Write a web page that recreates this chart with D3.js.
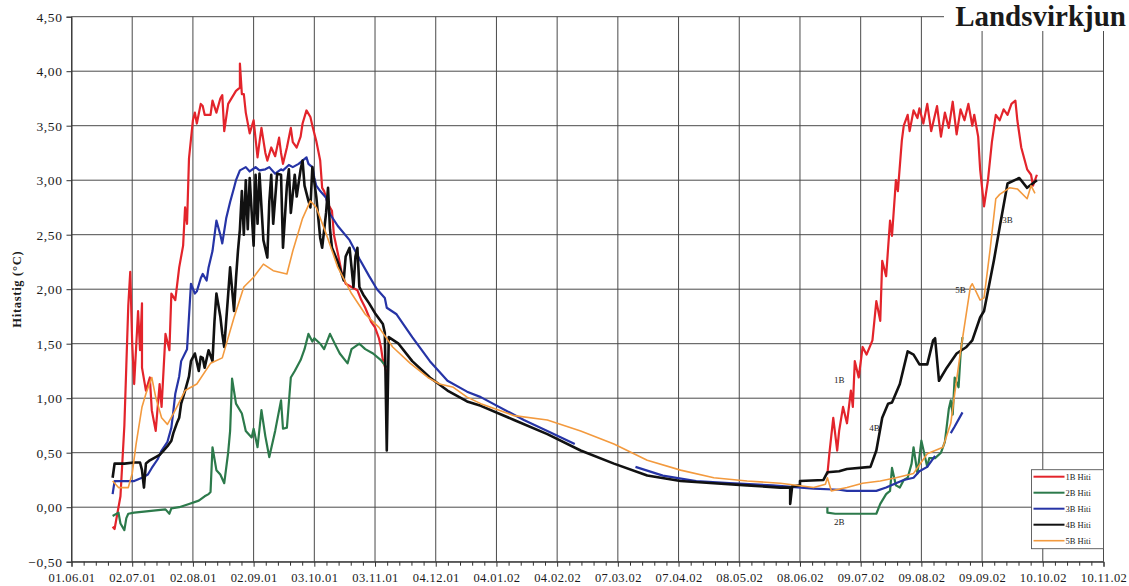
<!DOCTYPE html>
<html>
<head>
<meta charset="utf-8">
<script src="https://cdn.jsdelivr.net/npm/d3@7"></script>
<style>
    body { margin: 0; background: #fff; }
    svg { display: block; font-family: "Liberation Serif", "DejaVu Serif", serif; }
</style>
</head>
<body>
<svg id="chart" width="1129" height="586"></svg>
<script>
const MARGIN = {top: 16.7, right: 25.5, bottom: 24.3, left: 71.5};

const xTickLabels = ["01.06.01", "02.07.01", "02.08.01", "02.09.01", "03.10.01", "03.11.01",
    "04.12.01", "04.01.02", "04.02.02", "07.03.02", "07.04.02", "08.05.02", "08.06.02",
    "09.07.02", "09.08.02", "09.09.02", "10.10.02", "10.11.02"];
const yTicks = [-0.5, 0, 0.5, 1, 1.5, 2, 2.5, 3, 3.5, 4, 4.5];

const seriesNames = ["1B Hiti", "2B Hiti", "3B Hiti", "4B Hiti", "5B Hiti"];
const seriesColors = ["#e3242b", "#2c7a4b", "#2634a6", "#111111", "#f39a3e"];
const seriesWidths = [2.2, 2.2, 2.2, 2.6, 1.6];

// [dagsetning, hitastig]; null = gat í mælingum
const hiti1B = [
    ["22.06.01", -0.18], ["23.06.01", -0.20], ["26.06.01", 0.10], ["28.06.01", 0.75], ["29.06.01", 1.30],
    ["30.06.01", 1.85], ["01.07.01", 2.16], ["02.07.01", 1.50], ["03.07.01", 1.13], ["05.07.01", 1.80],
    ["06.07.01", 1.44], ["07.07.01", 1.87], ["07.07.01", 1.28], ["09.07.01", 1.07], ["11.07.01", 1.19],
    ["12.07.01", 0.89], ["14.07.01", 0.70], ["16.07.01", 1.13], ["17.07.01", 0.92], ["19.07.01", 1.59],
    ["21.07.01", 1.44], ["22.07.01", 1.96], ["24.07.01", 1.90], ["26.07.01", 2.20], ["28.07.01", 2.40],
    ["29.07.01", 2.75], ["30.07.01", 2.60], ["31.07.01", 3.20], ["02.08.01", 3.55], ["03.08.01", 3.62],
    ["04.08.01", 3.52], ["06.08.01", 3.70], ["07.08.01", 3.68], ["08.08.01", 3.60], ["11.08.01", 3.60],
    ["12.08.01", 3.73], ["14.08.01", 3.62], ["16.08.01", 3.75], ["17.08.01", 3.78], ["18.08.01", 3.45],
    ["20.08.01", 3.70], ["23.08.01", 3.79], ["24.08.01", 3.82], ["26.08.01", 3.85], ["26.08.01", 4.07],
    ["27.08.01", 3.79], ["28.08.01", 3.79], ["29.08.01", 3.62], ["31.08.01", 3.43], ["02.09.01", 3.55],
    ["04.09.01", 3.21], ["05.09.01", 3.35], ["06.09.01", 3.48], ["08.09.01", 3.25], ["09.09.01", 3.18],
    ["11.09.01", 3.30], ["13.09.01", 3.22], ["15.09.01", 3.39], ["16.09.01", 3.25], ["17.09.01", 3.15],
    ["19.09.01", 3.30], ["21.09.01", 3.48], ["22.09.01", 3.35], ["24.09.01", 3.30], ["26.09.01", 3.40],
    ["27.09.01", 3.52], ["29.09.01", 3.64], ["01.10.01", 3.58], ["02.10.01", 3.50], ["04.10.01", 3.36],
    ["06.10.01", 3.18], ["07.10.01", 2.93], ["08.10.01", 2.90], ["10.10.01", 2.78], ["12.10.01", 2.72],
    ["13.10.01", 2.50], ["15.10.01", 2.33], ["17.10.01", 2.15], ["19.10.01", 2.05], ["22.10.01", 2.02],
    ["25.10.01", 1.99], ["27.10.01", 1.90], ["29.10.01", 1.83], ["01.11.01", 1.70], ["03.11.01", 1.65],
    ["05.11.01", 1.55], ["06.11.01", 1.47], ["07.11.01", 1.35], ["09.11.01", 1.23], ["10.11.01", null],
    ["22.06.02", 0.30], ["23.06.02", 0.49], ["25.06.02", 0.82], ["27.06.02", 0.52], ["28.06.02", 0.70],
    ["30.06.02", 0.92], ["02.07.02", 0.77], ["04.07.02", 1.07], ["05.07.02", 0.92], ["06.07.02", 1.34],
    ["08.07.02", 1.19], ["10.07.02", 1.47], ["12.07.02", 1.40], ["15.07.02", 1.53], ["17.07.02", 1.89],
    ["19.07.02", 1.71], ["20.07.02", 2.26], ["22.07.02", 2.12], ["24.07.02", 2.63], ["25.07.02", 2.49],
    ["27.07.02", 3.00], ["28.07.02", 2.90], ["30.07.02", 3.36], ["31.07.02", 3.50], ["02.08.02", 3.60],
    ["03.08.02", 3.45], ["05.08.02", 3.64], ["07.08.02", 3.57], ["08.08.02", 3.66], ["10.08.02", 3.52],
    ["12.08.02", 3.70], ["14.08.02", 3.45], ["17.08.02", 3.68], ["19.08.02", 3.40], ["21.08.02", 3.62],
    ["23.08.02", 3.48], ["25.08.02", 3.72], ["27.08.02", 3.42], ["29.08.02", 3.65], ["31.08.02", 3.55],
    ["02.09.02", 3.70], ["04.09.02", 3.50], ["05.09.02", 3.60], ["07.09.02", 3.40], ["08.09.02", 3.10],
    ["10.09.02", 2.76], ["12.09.02", 3.00], ["14.09.02", 3.35], ["16.09.02", 3.60], ["18.09.02", 3.55],
    ["20.09.02", 3.65], ["22.09.02", 3.60], ["24.09.02", 3.70], ["26.09.02", 3.73], ["27.09.02", 3.55],
    ["29.09.02", 3.30], ["02.10.02", 3.10], ["04.10.02", 3.05], ["05.10.02", 2.95], ["07.10.02", 3.05]
];

const hiti2B = [
    ["22.06.01", -0.08], ["25.06.01", -0.05], ["26.06.01", -0.15], ["28.06.01", -0.21], ["29.06.01", -0.10],
    ["30.06.01", -0.06], ["03.07.01", -0.05], ["08.07.01", -0.04], ["14.07.01", -0.03], ["19.07.01", -0.02],
    ["21.07.01", -0.06], ["22.07.01", -0.01], ["26.07.01", 0.00], ["31.07.01", 0.03], ["05.08.01", 0.06],
    ["08.08.01", 0.10], ["10.08.01", 0.12], ["11.08.01", 0.14], ["12.08.01", 0.55], ["14.08.01", 0.34],
    ["16.08.01", 0.30], ["18.08.01", 0.22], ["20.08.01", 0.50], ["21.08.01", 0.70], ["22.08.01", 1.18],
    ["24.08.01", 0.95], ["27.08.01", 0.86], ["29.08.01", 0.70], ["01.09.01", 0.64], ["02.09.01", 0.72],
    ["04.09.01", 0.55], ["06.09.01", 0.89], ["08.09.01", 0.65], ["10.09.01", 0.46], ["13.09.01", 0.70],
    ["16.09.01", 0.98], ["17.09.01", 0.72], ["19.09.01", 0.73], ["21.09.01", 1.19], ["23.09.01", 1.25],
    ["26.09.01", 1.35], ["28.09.01", 1.45], ["30.09.01", 1.59], ["02.10.01", 1.52], ["03.10.01", 1.55],
    ["06.10.01", 1.50], ["08.10.01", 1.45], ["11.10.01", 1.59], ["14.10.01", 1.48], ["16.10.01", 1.41],
    ["20.10.01", 1.32], ["22.10.01", 1.45], ["26.10.01", 1.50], ["29.10.01", 1.45], ["02.11.01", 1.41],
    ["06.11.01", 1.35], ["09.11.01", 1.28], ["10.11.01", null],
    ["22.06.02", 0.00], ["22.06.02", -0.05], ["26.06.02", -0.06], ["04.07.02", -0.06], ["11.07.02", -0.06],
    ["17.07.02", -0.06], ["19.07.02", 0.03], ["22.07.02", 0.12], ["24.07.02", 0.15], ["25.07.02", 0.36],
    ["27.07.02", 0.20], ["29.07.02", 0.18], ["31.07.02", 0.25], ["02.08.02", 0.27], ["04.08.02", 0.40],
    ["05.08.02", 0.55], ["07.08.02", 0.31], ["09.08.02", 0.61], ["12.08.02", 0.37], ["13.08.02", 0.45],
    ["16.08.02", 0.45], ["19.08.02", 0.50], ["21.08.02", 0.60], ["23.08.02", 0.90], ["24.08.02", 0.98],
    ["25.08.02", 0.85], ["26.08.02", 1.19], ["28.08.02", 1.10], ["29.08.02", 1.40], ["30.08.02", 1.56]
];

const hiti3B = [
    ["22.06.01", 0.12], ["23.06.01", 0.24], ["28.06.01", 0.24], ["03.07.01", 0.24], ["07.07.01", 0.27],
    ["10.07.01", 0.30], ["12.07.01", 0.36], ["15.07.01", 0.44], ["17.07.01", 0.52], ["20.07.01", 0.60],
    ["22.07.01", 0.73], ["23.07.01", 0.88], ["24.07.01", 1.04], ["26.07.01", 1.20], ["27.07.01", 1.34],
    ["30.07.01", 1.45], ["31.07.01", 1.75], ["01.08.01", 2.05], ["03.08.01", 1.96], ["04.08.01", 1.98],
    ["06.08.01", 2.10], ["07.08.01", 2.14], ["09.08.01", 2.08], ["10.08.01", 2.20], ["12.08.01", 2.35],
    ["14.08.01", 2.63], ["16.08.01", 2.50], ["17.08.01", 2.42], ["19.08.01", 2.65], ["21.08.01", 2.80],
    ["23.08.01", 2.93], ["24.08.01", 3.00], ["26.08.01", 3.09], ["29.08.01", 3.12], ["31.08.01", 3.08],
    ["03.09.01", 3.12], ["05.09.01", 3.09], ["08.09.01", 3.10], ["10.09.01", 3.12], ["13.09.01", 3.06],
    ["16.09.01", 3.10], ["17.09.01", 3.09], ["20.09.01", 3.14], ["22.09.01", 3.12], ["25.09.01", 3.15],
    ["27.09.01", 3.18], ["29.09.01", 3.21], ["30.09.01", 3.15], ["02.10.01", 3.12], ["03.10.01", 3.02],
    ["04.10.01", 2.95], ["06.10.01", 2.90], ["09.10.01", 2.84], ["11.10.01", 2.69], ["15.10.01", 2.58],
    ["21.10.01", 2.45], ["26.10.01", 2.28], ["31.10.01", 2.12], ["04.11.01", 2.00], ["08.11.01", 1.92],
    ["09.11.01", 1.83], ["14.11.01", 1.77], ["22.11.01", 1.56], ["01.12.01", 1.34], ["10.12.01", 1.16],
    ["20.12.01", 1.06], ["27.12.01", 1.01], ["18.01.02", 0.80], ["30.01.02", 0.70], ["13.02.02", 0.58],
    ["14.02.02", null],
    ["16.03.02", 0.37], ["30.03.02", 0.29], ["16.04.02", 0.24], ["03.05.02", 0.22], ["25.05.02", 0.20],
    ["15.06.02", 0.17], ["28.06.02", 0.16], ["02.07.02", 0.15], ["09.07.02", 0.15], ["17.07.02", 0.15],
    ["22.07.02", 0.18], ["27.07.02", 0.22], ["31.07.02", 0.25], ["05.08.02", 0.27], ["08.08.02", 0.33],
    ["12.08.02", 0.37], ["16.08.02", 0.47], ["17.08.02", null],
    ["24.08.02", 0.68], ["26.08.02", 0.74], ["30.08.02", 0.87]
];

const hiti4B = [
    ["22.06.01", 0.27], ["23.06.01", 0.40], ["28.06.01", 0.40], ["03.07.01", 0.41], ["06.07.01", 0.41],
    ["07.07.01", 0.34], ["08.07.01", 0.18], ["09.07.01", 0.40], ["11.07.01", 0.43], ["14.07.01", 0.46],
    ["16.07.01", 0.48], ["18.07.01", 0.52], ["20.07.01", 0.56], ["22.07.01", 0.61], ["23.07.01", 0.68],
    ["25.07.01", 0.78], ["26.07.01", 0.82], ["27.07.01", 0.95], ["29.07.01", 1.07], ["31.07.01", 1.20],
    ["01.08.01", 1.34], ["03.08.01", 1.41], ["05.08.01", 1.25], ["06.08.01", 1.38], ["07.08.01", 1.37],
    ["08.08.01", 1.28], ["10.08.01", 1.44], ["12.08.01", 1.34], ["13.08.01", 1.70], ["14.08.01", 1.96],
    ["16.08.01", 1.75], ["17.08.01", 1.59], ["18.08.01", 1.47], ["20.08.01", 1.95], ["21.08.01", 2.20],
    ["23.08.01", 1.80], ["24.08.01", 2.10], ["25.08.01", 2.35], ["26.08.01", 2.55], ["27.08.01", 2.90],
    ["28.08.01", 2.50], ["29.08.01", 3.00], ["30.08.01", 2.55], ["31.08.01", 3.02], ["02.09.01", 2.40],
    ["03.09.01", 3.05], ["04.09.01", 2.60], ["05.09.01", 3.06], ["07.09.01", 2.45], ["09.09.01", 2.29],
    ["10.09.01", 2.80], ["11.09.01", 3.05], ["12.09.01", 2.60], ["14.09.01", 3.06], ["16.09.01", 3.05],
    ["17.09.01", 2.38], ["19.09.01", 2.95], ["20.09.01", 3.10], ["21.09.01", 2.70], ["23.09.01", 3.05],
    ["24.09.01", 2.85], ["26.09.01", 3.10], ["27.09.01", 3.18], ["28.09.01", 2.95], ["30.09.01", 2.81],
    ["01.10.01", 2.75], ["02.10.01", 3.12], ["04.10.01", 2.85], ["06.10.01", 2.47], ["07.10.01", 2.38],
    ["09.10.01", 2.70], ["10.10.01", 2.93], ["11.10.01", 2.55], ["12.10.01", 2.38], ["15.10.01", 2.25],
    ["18.10.01", 2.08], ["19.10.01", 2.30], ["21.10.01", 2.38], ["23.10.01", 2.02], ["24.10.01", 2.30],
    ["25.10.01", 2.38], ["26.10.01", 2.02], ["28.10.01", 1.95], ["31.10.01", 1.87], ["03.11.01", 1.78],
    ["07.11.01", 1.68], ["08.11.01", 1.60], ["09.11.01", 0.52], ["10.11.01", 1.56], ["15.11.01", 1.50],
    ["22.11.01", 1.34], ["01.12.01", 1.19], ["10.12.01", 1.07], ["20.12.01", 0.97], ["27.12.01", 0.93],
    ["13.01.02", 0.80], ["30.01.02", 0.67], ["16.02.02", 0.52], ["05.03.02", 0.40], ["22.03.02", 0.29],
    ["08.04.02", 0.24], ["25.04.02", 0.22], ["12.05.02", 0.20], ["29.05.02", 0.18], ["03.06.02", 0.18],
    ["03.06.02", 0.03], ["04.06.02", 0.19], ["08.06.02", 0.20], ["08.06.02", 0.24], ["20.06.02", 0.25],
    ["22.06.02", 0.32], ["28.06.02", 0.33], ["02.07.02", 0.35], ["14.07.02", 0.37], ["17.07.02", 0.52],
    ["20.07.02", 0.82], ["23.07.02", 0.95], ["25.07.02", 0.96], ["29.07.02", 1.13], ["02.08.02", 1.43],
    ["05.08.02", 1.40], ["08.08.02", 1.31], ["12.08.02", 1.31], ["15.08.02", 1.53], ["16.08.02", 1.55],
    ["18.08.02", 1.16], ["22.08.02", 1.28], ["27.08.02", 1.41], ["01.09.02", 1.47], ["04.09.02", 1.53],
    ["08.09.02", 1.74], ["10.09.02", 1.80], ["15.09.02", 2.26], ["18.09.02", 2.57], ["22.09.02", 2.97],
    ["28.09.02", 3.02], ["02.10.02", 2.93], ["07.10.02", 3.00]
];

const hiti5B = [
    ["22.06.01", 0.24], ["25.06.01", 0.18], ["30.06.01", 0.18], ["02.07.01", 0.31], ["04.07.01", 0.58],
    ["07.07.01", 0.92], ["09.07.01", 1.04], ["12.07.01", 1.19], ["14.07.01", 1.01], ["17.07.01", 0.82],
    ["20.07.01", 0.76], ["24.07.01", 0.89], ["29.07.01", 1.07], ["04.08.01", 1.13], ["11.08.01", 1.32],
    ["17.08.01", 1.37], ["23.08.01", 1.74], ["28.08.01", 2.02], ["02.09.01", 2.11], ["07.09.01", 2.23],
    ["12.09.01", 2.17], ["19.09.01", 2.14], ["22.09.01", 2.35], ["27.09.01", 2.65], ["01.10.01", 2.81],
    ["04.10.01", 2.75], ["09.10.01", 2.51], ["15.10.01", 2.20], ["22.10.01", 1.96], ["29.10.01", 1.77],
    ["05.11.01", 1.65], ["12.11.01", 1.47], ["21.11.01", 1.32], ["30.11.01", 1.19], ["06.12.01", 1.13],
    ["13.12.01", 1.10], ["20.12.01", 1.01], ["27.12.01", 0.95], ["13.01.02", 0.84], ["30.01.02", 0.80],
    ["16.02.02", 0.70], ["05.03.02", 0.58], ["22.03.02", 0.43], ["08.04.02", 0.34], ["25.04.02", 0.27],
    ["12.05.02", 0.24], ["29.05.02", 0.22], ["15.06.02", 0.18], ["21.06.02", 0.21], ["22.06.02", 0.27],
    ["24.06.02", 0.15], ["02.07.02", 0.18], ["10.07.02", 0.22], ["19.07.02", 0.24], ["27.07.02", 0.27],
    ["05.08.02", 0.31], ["12.08.02", 0.49], ["20.08.02", 0.55], ["24.08.02", 0.77], ["26.08.02", 1.04],
    ["29.08.02", 1.43], ["03.09.02", 2.02], ["04.09.02", 2.05], ["08.09.02", 1.90], ["10.09.02", 1.92],
    ["13.09.02", 2.35], ["16.09.02", 2.83], ["18.09.02", 2.87], ["23.09.02", 2.93], ["27.09.02", 2.92],
    ["02.10.02", 2.83], ["04.10.02", 2.95], ["06.10.02", 2.88]
];

// merki við ferlana
const lineLabels = [
    ["1B", "28.06.02", 1.17],
    ["4B", "16.07.02", 0.73],
    ["2B", "28.06.02", -0.13],
    ["5B", "29.08.02", 1.99],
    ["3B", "22.09.02", 2.64]
];

const parseDate = d3.timeParse("%d.%m.%y");
const commaFormat = d3.formatLocale({decimal: ",", thousands: ".", grouping: [3], currency: ["", " kr."]}).format(".2f");

const svg = d3.select("#chart");
const width = +svg.attr("width");
const height = +svg.attr("height");

const xTicks = xTickLabels.map(parseDate);
const xScale = d3.scaleTime()
    .domain([xTicks[0], xTicks[xTicks.length - 1]])
    .range([MARGIN.left, width - MARGIN.right]);
const yScale = d3.scaleLinear()
    .domain([yTicks[0], yTicks[yTicks.length - 1]])
    .range([height - MARGIN.bottom, MARGIN.top]);

// minni merki, fimm bil á milli aðalmerkja
const minorTicks = [];
for (let i = 0; i < xTicks.length - 1; i++) {
    const step = (xTicks[i + 1] - xTicks[i]) / 5;
    for (let k = 1; k < 5; k++) minorTicks.push(new Date(+xTicks[i] + k * step));
}

// grid
const grid = svg.append("g").attr("class", "grid")
    .attr("stroke", "#4a4a4a")
    .attr("stroke-width", 1);
grid.selectAll("line.h")
    .data(yTicks)
    .join("line")
    .attr("class", "h")
    .attr("x1", MARGIN.left)
    .attr("x2", width - MARGIN.right)
    .attr("y1", d => yScale(d))
    .attr("y2", d => yScale(d));
grid.selectAll("line.v")
    .data(xTicks)
    .join("line")
    .attr("class", "v")
    .attr("x1", d => xScale(d))
    .attr("x2", d => xScale(d))
    .attr("y1", MARGIN.top)
    .attr("y2", height - MARGIN.bottom);

// axes
const yAxis = d3.axisLeft(yScale)
    .tickValues(yTicks)
    .tickSize(5)
    .tickPadding(4)
    .tickFormat(commaFormat);
const yAxisG = svg.append("g")
    .attr("transform", `translate(${MARGIN.left}, 0)`)
    .call(yAxis);

const xAxis = d3.axisBottom(xScale)
    .tickValues(xTicks)
    .tickSize(5)
    .tickPadding(6)
    .tickFormat(d3.timeFormat("%d.%m.%y"));
const xAxisG = svg.append("g")
    .attr("transform", `translate(0, ${height - MARGIN.bottom})`)
    .call(xAxis);

svg.append("g")
    .attr("transform", `translate(0, ${height - MARGIN.bottom})`)
    .call(d3.axisBottom(xScale).tickValues(minorTicks).tickSize(4).tickFormat(""))
    .call(g => g.select(".domain").remove());

svg.selectAll(".domain, .tick line").attr("stroke", "#333").attr("stroke-width", 1);
yAxisG.selectAll("text")
    .attr("font-family", "Liberation Serif")
    .attr("font-size", 13.5)
    .attr("letter-spacing", 0.6)
    .attr("fill", "#1a1a1a");
xAxisG.selectAll("text")
    .attr("font-family", "Liberation Serif")
    .attr("font-size", 12.5)
    .attr("letter-spacing", 0.4)
    .attr("fill", "#1a1a1a");

svg.append("text")
    .attr("transform", `translate(21, ${(MARGIN.top + height - MARGIN.bottom) / 2}) rotate(-90)`)
    .attr("text-anchor", "middle")
    .attr("font-size", 12.5)
    .attr("letter-spacing", 0.7)
    .attr("font-weight", "bold")
    .attr("fill", "#1a1a1a")
    .text("Hitastig (°C)");

// series
const allSeries = [hiti1B, hiti2B, hiti3B, hiti4B, hiti5B];
const line = d3.line()
    .defined(d => d[1] !== null)
    .x(d => xScale(parseDate(d[0])))
    .y(d => yScale(d[1]));

svg.append("g").attr("class", "series")
    .selectAll("path")
    .data(allSeries)
    .join("path")
    .attr("fill", "none")
    .attr("stroke", (d, i) => seriesColors[i])
    .attr("stroke-width", (d, i) => seriesWidths[i])
    .attr("stroke-linejoin", "round")
    .attr("d", line);

svg.append("g").attr("class", "lineLabels")
    .selectAll("text")
    .data(lineLabels)
    .join("text")
    .attr("x", d => xScale(parseDate(d[1])))
    .attr("y", d => yScale(d[2]))
    .attr("dy", "0.35em")
    .attr("text-anchor", "middle")
    .attr("font-size", 9)
    .attr("fill", "#222")
    .text(d => d[0]);

// legend
const legend = svg.append("g")
    .attr("transform", `translate(${width - MARGIN.right - 72}, ${height - MARGIN.bottom - 92})`);
legend.append("rect")
    .attr("width", 72)
    .attr("height", 79)
    .attr("fill", "#fff")
    .attr("stroke", "#555")
    .attr("stroke-width", 0.9);
const entry = legend.selectAll("g")
    .data(seriesNames)
    .join("g")
    .attr("transform", (d, i) => `translate(0, ${7 + i * 16})`);
entry.append("line")
    .attr("x1", 2)
    .attr("x2", 33)
    .attr("stroke", (d, i) => seriesColors[i])
    .attr("stroke-width", (d, i) => Math.min(seriesWidths[i], 2));
entry.append("text")
    .attr("x", 34)
    .attr("dy", "0.33em")
    .attr("font-size", 8.5)
    .attr("fill", "#222")
    .text(d => d);

// title
svg.append("rect")
    .attr("x", 944)
    .attr("y", 0)
    .attr("width", width - 944)
    .attr("height", 31)
    .attr("fill", "#fff");
svg.append("text")
    .attr("x", 1126)
    .attr("y", 26)
    .attr("text-anchor", "end")
    .attr("font-size", 29)
    .attr("font-weight", "bold")
    .attr("fill", "#1a1a1a")
    .text("Landsvirkjun");
</script>
</body>
</html>
